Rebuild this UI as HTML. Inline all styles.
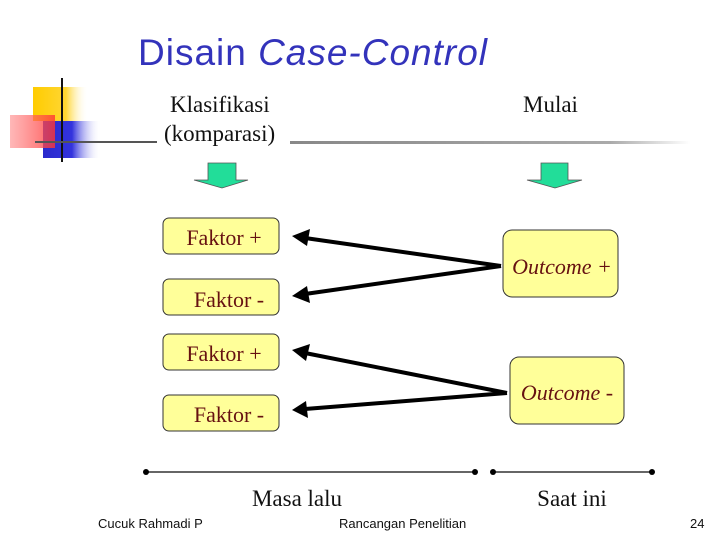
<!DOCTYPE html>
<html><head><style>
body{margin:0;width:728px;height:546px;background:#fff;overflow:hidden}
</style></head><body>
<svg width="728" height="546" xmlns="http://www.w3.org/2000/svg">
<defs>
<linearGradient id="gy" x1="0" x2="1"><stop offset="0" stop-color="#ffcc00"/><stop offset="0.6" stop-color="#ffd633"/><stop offset="1" stop-color="#fff" stop-opacity="0"/></linearGradient>
<linearGradient id="gb" x1="0" x2="1"><stop offset="0" stop-color="#2a2acc"/><stop offset="0.5" stop-color="#3333dd"/><stop offset="1" stop-color="#fff" stop-opacity="0"/></linearGradient>
<linearGradient id="gr" x1="0" x2="1"><stop offset="0" stop-color="#ff8888" stop-opacity="0.6"/><stop offset="1" stop-color="#ff3333" stop-opacity="0.8"/></linearGradient>
<linearGradient id="gl" x1="0" x2="1"><stop offset="0" stop-color="#888"/><stop offset="0.8" stop-color="#aaa"/><stop offset="1" stop-color="#fff"/></linearGradient>
</defs>
<text x="138" y="65" font-family="Liberation Sans, sans-serif" font-size="37" fill="#3333bb" textLength="349">Disain <tspan font-style="italic">Case-Control</tspan></text>
<rect x="33" y="87" width="55" height="34" fill="url(#gy)"/>
<rect x="43" y="121" width="58" height="37" fill="url(#gb)"/>
<rect x="10" y="115" width="45" height="33" fill="url(#gr)"/>
<line x1="62" y1="78" x2="62" y2="162" stroke="#111" stroke-width="2"/>
<line x1="35" y1="142" x2="157" y2="142" stroke="#555" stroke-width="2"/>
<rect x="290" y="141" width="400" height="3" fill="url(#gl)"/>
<g font-family="Liberation Serif, serif" font-size="23" fill="#111">
<text x="170" y="112">Klasifikasi</text>
<text x="164" y="141">(komparasi)</text>
<text x="523" y="112">Mulai</text>
<text x="297" y="506" text-anchor="middle">Masa lalu</text>
<text x="572" y="506" text-anchor="middle">Saat ini</text>
</g>
<polygon points="208,163 236,163 236,180 248,180 222,188 194,180 208,180" fill="#22dd99" stroke="#555" stroke-width="0.8"/>
<polygon points="541,163 568,163 568,180 582,180 555,188 527,180 541,180" fill="#22dd99" stroke="#555" stroke-width="0.8"/>
<g fill="#ffff99" stroke="#333" stroke-width="1">
<rect x="163" y="218" width="116" height="36" rx="6"/>
<rect x="163" y="279" width="116" height="36" rx="6"/>
<rect x="163" y="334" width="116" height="36" rx="6"/>
<rect x="163" y="395" width="116" height="36" rx="6"/>
<rect x="503" y="230" width="115" height="67" rx="9"/>
<rect x="510" y="357" width="114" height="67" rx="9"/>
</g>
<g font-family="Liberation Serif, serif" font-size="22" fill="#661111">
<text x="224" y="245" text-anchor="middle">Faktor +</text>
<text x="229" y="307" text-anchor="middle">Faktor -</text>
<text x="224" y="361" text-anchor="middle">Faktor +</text>
<text x="229" y="422" text-anchor="middle">Faktor -</text>
<text x="562" y="274" text-anchor="middle" font-style="italic">Outcome +</text>
<text x="567" y="400" text-anchor="middle" font-style="italic">Outcome -</text>
</g>
<g stroke="#000" stroke-width="4">
<line x1="501" y1="266" x2="305" y2="238"/>
<line x1="501" y1="266" x2="305" y2="294"/>
<line x1="507" y1="393" x2="305" y2="353"/>
<line x1="507" y1="393" x2="305" y2="409"/>
</g>
<g fill="#000">
<polygon points="292,236 310,229 307,246"/>
<polygon points="292,296 307,286 310,303"/>
<polygon points="292,350 310,344 306,361"/>
<polygon points="292,410 306,401 308,418"/>
</g>
<line x1="146" y1="472" x2="475" y2="472" stroke="#333" stroke-width="1.5"/>
<line x1="493" y1="472" x2="652" y2="472" stroke="#333" stroke-width="1.5"/>
<g fill="#000"><circle cx="146" cy="472" r="3"/><circle cx="475" cy="472" r="3"/><circle cx="493" cy="472" r="3"/><circle cx="652" cy="472" r="3"/></g>
<g font-family="Liberation Sans, sans-serif" font-size="13" fill="#111">
<text x="98" y="528">Cucuk Rahmadi P</text>
<text x="339" y="528">Rancangan Penelitian</text>
<text x="690" y="528">24</text>
</g>
</svg>
</body></html>
